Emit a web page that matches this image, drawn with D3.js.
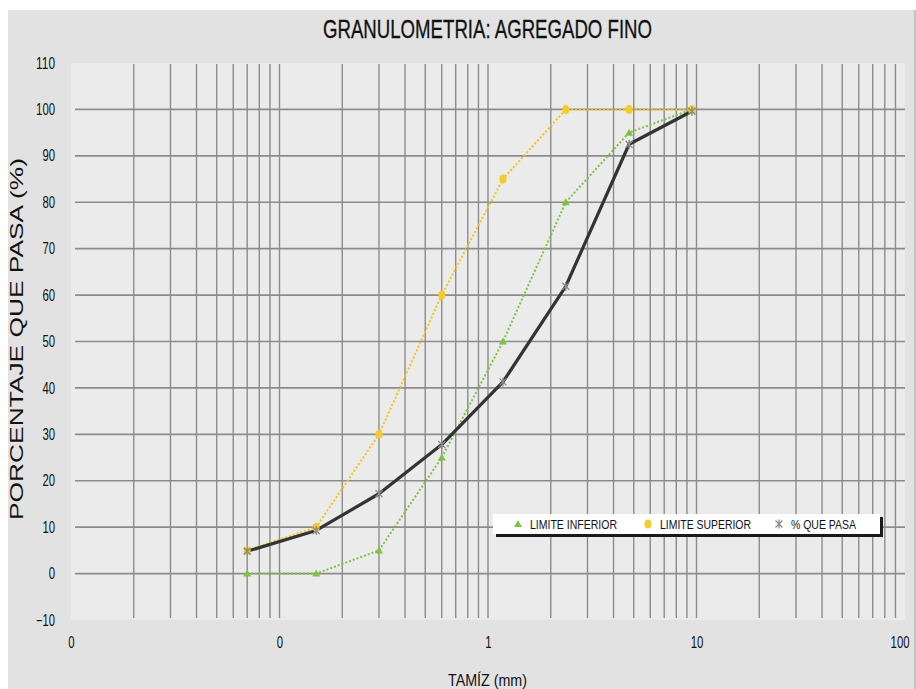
<!DOCTYPE html>
<html><head><meta charset="utf-8">
<script src="https://cdn.jsdelivr.net/npm/d3@7"></script>
<style>
html,body{margin:0;padding:0;background:#fff;}
text{font-family:"Liberation Sans Narrow","Arial Narrow","Liberation Sans",Arial,sans-serif;}
</style></head>
<body>
<svg id="c" width="916" height="689"></svg>
<script>
const title = "GRANULOMETRIA: AGREGADO FINO";
const xLabel = "TAMÍZ (mm)";
const yLabel = "PORCENTAJE QUE PASA (%)";
const sizes = [0.07, 0.15, 0.3, 0.6, 1.18, 2.36, 4.75, 9.5];
const limiteInferior = [0, 0, 5, 25, 50, 80, 95, 100];
const limiteSuperior = [5, 10, 30, 60, 85, 100, 100, 100];
const quePasa = [4.8, 9.3, 17.2, 27.8, 41.3, 61.9, 92.5, 99.6];
const xTickValues = [0.01, 0.1, 1, 10, 100];
const xTickLabels = ["0", "0", "1", "10", "100"];
const yTickValues = [-10, 0, 10, 20, 30, 40, 50, 60, 70, 80, 90, 100, 110];
const yGridValues = [0, 10, 20, 30, 40, 50, 60, 70, 80, 90, 100];
const seriesNames = ["LIMITE INFERIOR", "LIMITE SUPERIOR", "% QUE PASA"];

const svg = d3.select("#c");
// outer background
svg.append("rect").attr("x", 8).attr("y", 10).attr("width", 906).attr("height", 679).attr("fill", "#e2e2e2");
svg.append("rect").attr("x", 914).attr("y", 10).attr("width", 2).attr("height", 679).attr("fill", "#c4c4c4");

const x = d3.scaleLog().domain([0.01, 100]).range([71, 905]);
const y = d3.scaleLinear().domain([-10, 110]).range([620, 63]);

// plot area
svg.append("rect").attr("x", x(0.01)).attr("y", y(110)).attr("width", x(100) - x(0.01)).attr("height", y(-10) - y(110)).attr("fill", "#ebebeb");

// vertical grid
const vgrid = x.ticks().filter(v => v > 0.0100001 && v < 99.999);
svg.append("g").selectAll("line").data(vgrid).join("line")
  .attr("x1", d => x(d)).attr("x2", d => x(d))
  .attr("y1", y(110) + 1).attr("y2", y(-10) - 2)
  .attr("stroke", "#8c8c8c").attr("stroke-width", 1.4);

// horizontal grid
svg.append("g").selectAll("line").data(yGridValues).join("line")
  .attr("x1", x(0.01) + 4).attr("x2", x(100))
  .attr("y1", d => y(d)).attr("y2", d => y(d))
  .attr("stroke", "#8c8c8c").attr("stroke-width", 1.6);

// y axis
const yAxis = d3.axisLeft(y).tickValues(yTickValues).tickSize(0).tickPadding(0);
const gy = svg.append("g").attr("transform", "translate(55,0)").call(yAxis);
gy.select(".domain").remove();
gy.selectAll("text").attr("font-size", 16).attr("fill", "#111")
  .attr("textLength", d => String(d).length * 6.3).attr("lengthAdjust", "spacingAndGlyphs");

// x axis
const xAxis = d3.axisBottom(x).tickValues(xTickValues).tickFormat((d, i) => xTickLabels[i]).tickSize(0).tickPadding(0);
const gx = svg.append("g").attr("transform", "translate(0,637)").call(xAxis);
gx.select(".domain").remove();
gx.selectAll("text").attr("font-size", 16).attr("fill", "#111")
  .attr("textLength", (d, i) => xTickLabels[i].length * 6.3).attr("lengthAdjust", "spacingAndGlyphs")
  .attr("text-anchor", (d, i) => i === xTickLabels.length - 1 ? "end" : "middle")
  .attr("dx", (d, i) => i === xTickLabels.length - 1 ? 4 : 0);

// titles
svg.append("text").attr("x", 487.5).attr("y", 38).attr("text-anchor", "middle")
  .attr("font-size", 25).attr("fill", "#111").attr("stroke", "#111").attr("stroke-width", 0.3)
  .attr("textLength", 329).attr("lengthAdjust", "spacingAndGlyphs").text(title);
svg.append("text").attr("x", 487.5).attr("y", 686).attr("text-anchor", "middle")
  .attr("font-size", 16).attr("fill", "#111").attr("textLength", 79).attr("lengthAdjust", "spacingAndGlyphs").text(xLabel);
svg.append("text").attr("transform", "translate(23,339) rotate(-90)").attr("text-anchor", "middle")
  .style("font-family", "'Liberation Sans',Arial,sans-serif")
  .attr("font-size", 18).attr("fill", "#111").attr("textLength", 362).attr("lengthAdjust", "spacingAndGlyphs").text(yLabel);

const line = d3.line().x(d => x(d[0])).y(d => y(d[1]));
const zip = arr => sizes.map((s, i) => [s, arr[i]]);

// series lines
svg.append("path").datum(zip(limiteInferior)).attr("d", line).attr("fill", "none")
  .attr("stroke", "#7dc243").attr("stroke-width", 2).attr("stroke-dasharray", "2,2");
svg.append("path").datum(zip(limiteSuperior)).attr("d", line).attr("fill", "none")
  .attr("stroke", "#f2c31b").attr("stroke-width", 2).attr("stroke-dasharray", "2,2");
svg.append("path").datum(zip(quePasa)).attr("d", line).attr("fill", "none")
  .attr("stroke", "#333").attr("stroke-width", 3.2).attr("stroke-linejoin", "round");

// markers
const tri = "M0,-4L4,3L-4,3Z";
const star = "M-3.5,-3.5L3.5,3.5M-3.5,3.5L3.5,-3.5M0,-4.5L0,4.5";
svg.append("g").selectAll("path").data(zip(limiteInferior)).join("path")
  .attr("transform", d => `translate(${x(d[0])},${y(d[1])})`).attr("d", tri).attr("fill", "#7dc243");
svg.append("g").selectAll("ellipse").data(zip(limiteSuperior)).join("ellipse")
  .attr("cx", d => x(d[0])).attr("cy", d => y(d[1])).attr("rx", 3.5).attr("ry", 4.5).attr("fill", "#f5cb2a");
svg.append("g").selectAll("path").data(zip(quePasa)).join("path")
  .attr("transform", d => `translate(${x(d[0])},${y(d[1])})`).attr("d", star)
  .attr("stroke", "#8a8a8a").attr("stroke-width", 1.3).attr("fill", "none");

// legend
const lg = svg.append("g");
lg.append("rect").attr("x", 496).attr("y", 517).attr("width", 387).attr("height", 20).attr("fill", "#1a1a1a");
lg.append("rect").attr("x", 493).attr("y", 514).attr("width", 387).attr("height", 20).attr("fill", "#fff");
const legX = [518, 648, 779];
const legTextW = [87, 91, 65];
lg.append("path").attr("transform", `translate(${legX[0]},524)`).attr("d", tri).attr("fill", "#7dc243");
lg.append("ellipse").attr("cx", legX[1]).attr("cy", 524).attr("rx", 3.5).attr("ry", 4.5).attr("fill", "#f5cb2a");
lg.append("path").attr("transform", `translate(${legX[2]},524)`).attr("d", star).attr("stroke", "#8a8a8a").attr("stroke-width", 1.3);
lg.selectAll("text.l").data(seriesNames).join("text").attr("class", "l")
  .attr("x", (d, i) => legX[i] + 12).attr("y", 529).attr("font-size", 13).attr("fill", "#111")
  .attr("textLength", (d, i) => legTextW[i]).attr("lengthAdjust", "spacingAndGlyphs").text(d => d);
</script>
</body></html>
